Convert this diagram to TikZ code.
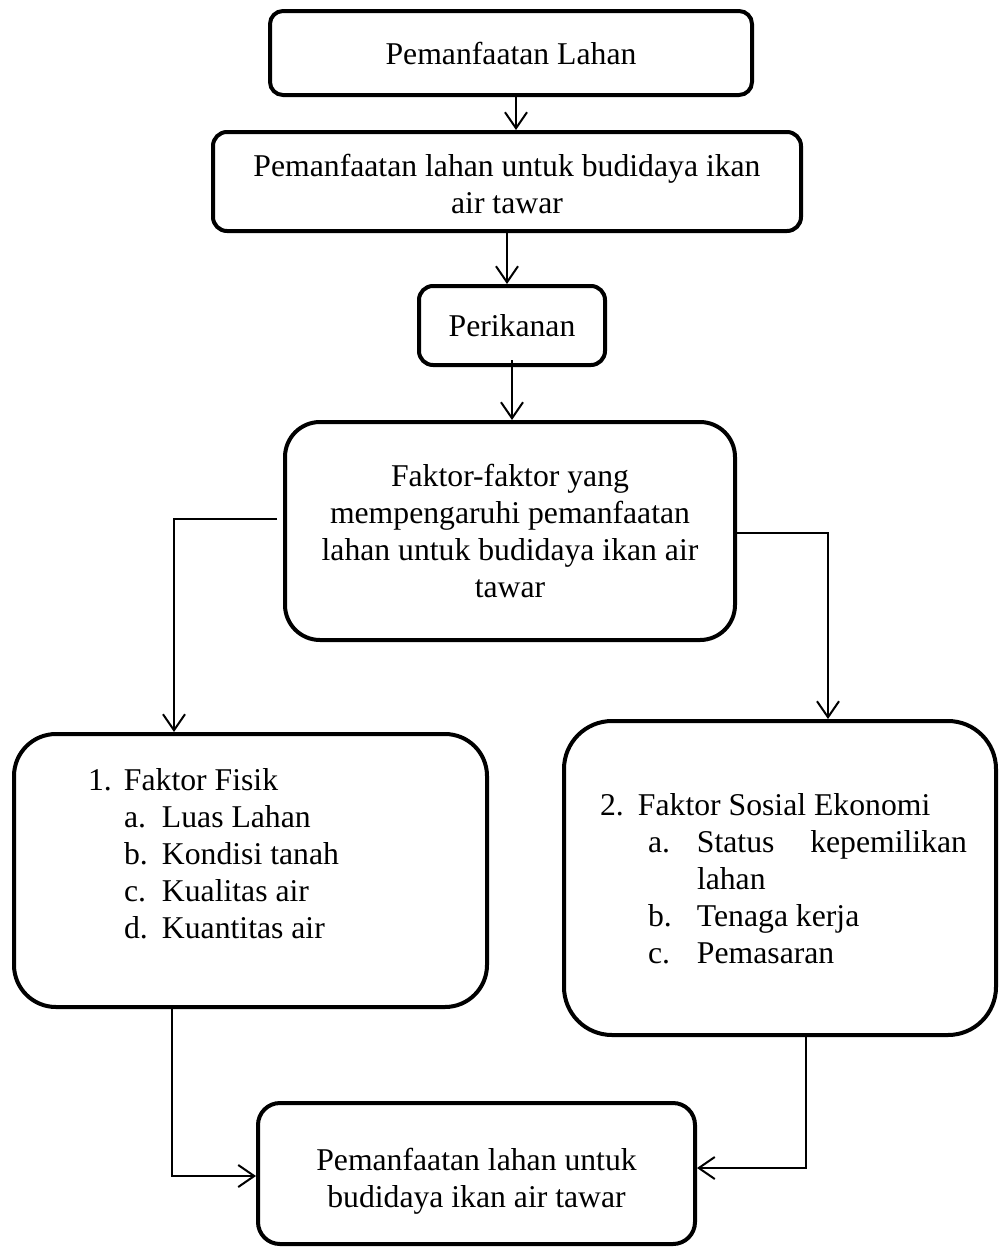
\documentclass[tikz,border=0pt]{standalone}
\usepackage{fontspec}
\setmainfont{Liberation Serif}
\usetikzlibrary{arrows.meta}
\tikzset{
	kotak/.style={draw, line width=4pt, inner sep=0pt, font=\fontsize{31.7}{37}\selectfont},
	panah/.style={line width=2pt, -{Straight Barb[length=16pt,width=22pt]}}
}

\begin{document}
\begin{tikzpicture}[x=1pt,y=-1pt]
	%%%%% START %%%%%
	\useasboundingbox (0,0) rectangle (1001,1248);
	
	\node[kotak, align=center, rounded corners=13pt, minimum width=482pt, minimum height=84pt] (lahan) at (511,53) {Pemanfaatan Lahan};
	\node[kotak, align=center, rounded corners=14pt, minimum width=588pt, minimum height=99pt] (budidaya) at (507,181.5) {\rule{0pt}{27.6pt}Pemanfaatan lahan untuk budidaya ikan\\air tawar};
	\node[kotak, align=center, rounded corners=14pt, minimum width=186pt, minimum height=79pt] (perikanan) at (512,325.5) {Perikanan};
	\node[kotak, align=center, rounded corners=35pt, minimum width=450pt, minimum height=218pt] (faktor) at (510,531) {Faktor-faktor yang\\mempengaruhi pemanfaatan\\lahan untuk budidaya ikan air\\tawar};
	
	\node[kotak, rounded corners=42pt] (fisik) at (250.5,870.5) {\begin{minipage}[c][273pt][t]{473pt}
		\vspace*{34.4pt}
		\hspace*{74pt}\makebox[36pt][l]{1.}Faktor Fisik\\
		\hspace*{110pt}\makebox[38pt][l]{a.}Luas Lahan\\
		\hspace*{110pt}\makebox[38pt][l]{b.}Kondisi tanah\\
		\hspace*{110pt}\makebox[38pt][l]{c.}Kualitas air\\
		\hspace*{110pt}\makebox[38pt][l]{d.}Kuantitas air
	\end{minipage}};
	
	\node[kotak, rounded corners=48pt] (sosial) at (780,878) {\begin{minipage}[c][314pt][t]{432pt}
		\vspace*{72.4pt}
		\hspace*{36pt}\makebox[38pt][l]{2.}Faktor Sosial Ekonomi\\
		\hspace*{84pt}\makebox[49pt][l]{a.}\makebox[270pt][s]{Status\hfill kepemilikan}\\
		\hspace*{133pt}lahan\\
		\hspace*{84pt}\makebox[49pt][l]{b.}Tenaga kerja\\
		\hspace*{84pt}\makebox[49pt][l]{c.}Pemasaran
	\end{minipage}};
	
	\node[kotak, align=center, rounded corners=22pt, minimum width=437pt, minimum height=141pt] (hasil) at (476.5,1173.5) {\rule{0pt}{37.6pt}Pemanfaatan lahan untuk\\budidaya ikan air tawar};
	
	\draw[panah] ([xshift=5pt]lahan.south) -- ([xshift=5pt]lahan.south |- budidaya.north);
	\draw[panah] (budidaya.south) -- (budidaya.south |- perikanan.north);
	\draw[panah] ([yshift=7pt]perikanan.south) -- (perikanan.south |- faktor.north);
	
	\draw[panah] ([shift={(-6pt,12pt)}]faktor.west) -| ([xshift=-76.5pt]fisik.north);
	\draw[panah] ([yshift=-2pt]faktor.east) -| ([xshift=48pt]sosial.north);
	
	\draw[panah] ([xshift=-78.5pt]fisik.south) |- ([yshift=-2.5pt]hasil.west);
	\draw[panah] ([xshift=26pt]sosial.south) |- ([yshift=5.5pt]hasil.east);
	
	%%%%% END %%%%%
\end{tikzpicture}
\end{document}
